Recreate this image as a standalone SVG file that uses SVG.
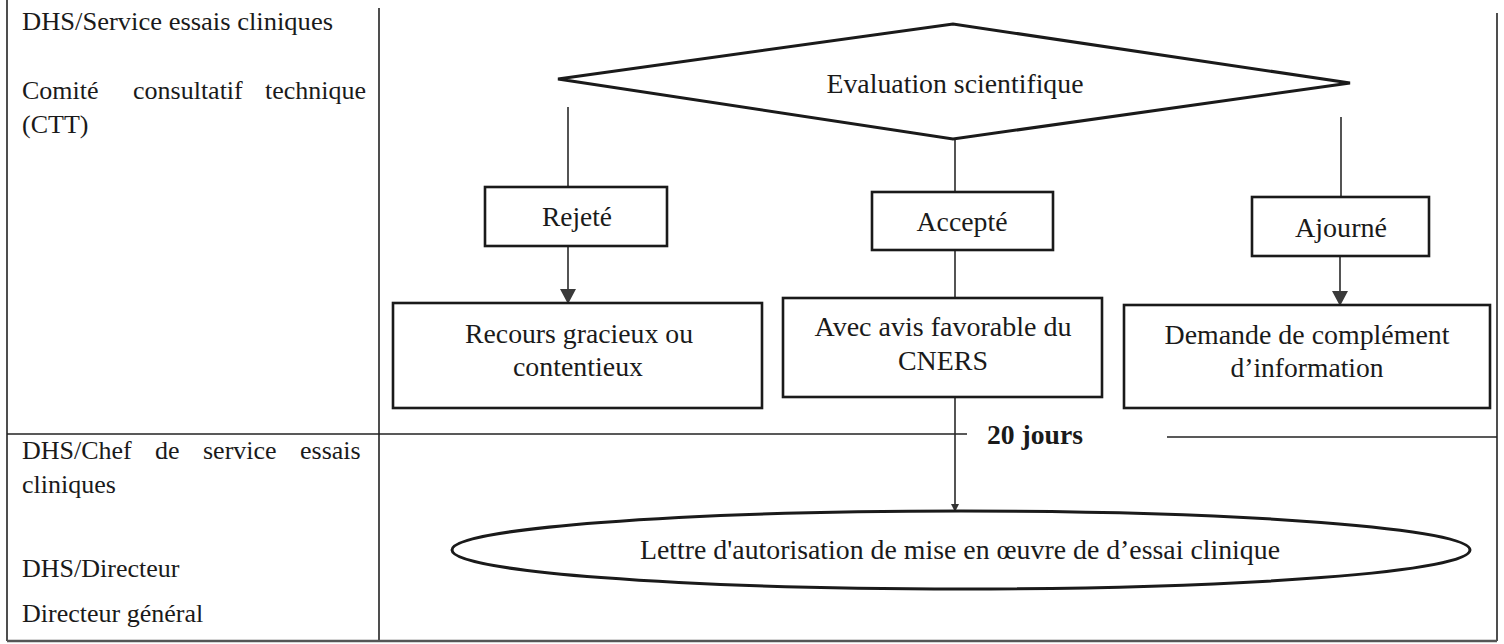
<svg xmlns="http://www.w3.org/2000/svg" width="1504" height="644" viewBox="0 0 1504 644">
<style>
text{font-family:"Liberation Serif","Times New Roman",serif;font-size:26px;fill:#1a1a1a}
.n{font-size:28px;text-anchor:middle}
.b{font-weight:bold;font-size:28px}
.tbl{stroke:#222;stroke-width:1.6;fill:none}
.box{fill:#fff;stroke:#1a1a1a;stroke-width:2.6}
.con{stroke:#2a2a2a;stroke-width:1.6;fill:none}
</style>
<defs>
<marker id="arr" markerWidth="15" markerHeight="16" refX="14" refY="8" orient="auto" markerUnits="userSpaceOnUse">
<path d="M0,0 L15,8 L0,16 Z" fill="#3a3a3a"/>
</marker>
<marker id="arrs" markerWidth="8" markerHeight="8" refX="7" refY="4" orient="auto" markerUnits="userSpaceOnUse">
<path d="M0,0 L8,4 L0,8 Z" fill="#333"/>
</marker>
</defs>
<rect width="1504" height="644" fill="#fff"/>
<g id="table">
<line class="tbl" x1="7" y1="0" x2="7" y2="641"/>
<line class="tbl" x1="379" y1="8" x2="379" y2="641"/>
<line class="tbl" x1="1497" y1="13" x2="1497" y2="641"/>
<line class="tbl" x1="7" y1="434" x2="967" y2="434"/>
<line class="tbl" x1="1167" y1="437" x2="1497" y2="437"/>
<line x1="7" y1="641" x2="1497" y2="641" stroke="#555" stroke-width="2.5"/>
</g>
<g id="lanes">
<text x="22" y="30" textLength="311" lengthAdjust="spacingAndGlyphs">DHS/Service essais cliniques</text>
<text x="22" y="99">Comité</text>
<text x="133" y="99">consultatif</text>
<text x="265" y="99">technique</text>
<text x="22" y="133">(CTT)</text>
<text x="22" y="459">DHS/Chef</text>
<text x="155" y="459">de</text>
<text x="203" y="459">service</text>
<text x="300" y="459">essais</text>
<text x="22" y="493">cliniques</text>
<text x="22" y="577">DHS/Directeur</text>
<text x="22" y="622">Directeur général</text>
</g>
<g id="connectors">
<line class="con" x1="568" y1="107" x2="568" y2="187"/>
<line class="con" x1="568" y1="246" x2="568" y2="303" marker-end="url(#arr)"/>
<line class="con" x1="955" y1="120" x2="955" y2="192"/>
<line class="con" x1="955" y1="250" x2="955" y2="298"/>
<line class="con" x1="955" y1="397" x2="955" y2="511" marker-end="url(#arrs)"/>
<line class="con" x1="1341" y1="117" x2="1341" y2="197"/>
<line class="con" x1="1340" y1="256" x2="1340" y2="305" marker-end="url(#arr)"/>
</g>
<g id="evaluation">
<polygon points="558,79 953,24 1350,83 953,139" fill="#fff" stroke="#1a1a1a" stroke-width="3"/>
<text class="n" x="955" y="93" textLength="257" lengthAdjust="spacingAndGlyphs">Evaluation scientifique</text>
</g>
<g id="rejete">
<rect class="box" x="485" y="187" width="182" height="59"/>
<text class="n" x="577" y="226" textLength="70" lengthAdjust="spacingAndGlyphs">Rejeté</text>
</g>
<g id="accepte">
<rect class="box" x="872" y="192" width="181" height="58"/>
<text class="n" x="962" y="231" textLength="91" lengthAdjust="spacingAndGlyphs">Accepté</text>
</g>
<g id="ajourne">
<rect class="box" x="1252" y="197" width="177" height="59"/>
<text class="n" x="1341" y="237" textLength="92" lengthAdjust="spacingAndGlyphs">Ajourné</text>
</g>
<g id="recours">
<rect class="box" x="393" y="303" width="369" height="105"/>
<text class="n" x="579" y="343" textLength="228" lengthAdjust="spacingAndGlyphs">Recours gracieux ou</text>
<text class="n" x="578" y="376" textLength="130" lengthAdjust="spacingAndGlyphs">contentieux</text>
</g>
<g id="avis">
<rect class="box" x="783" y="298" width="319" height="99"/>
<text class="n" x="943" y="336" textLength="257" lengthAdjust="spacingAndGlyphs">Avec avis favorable du</text>
<text class="n" x="943" y="370" textLength="90" lengthAdjust="spacingAndGlyphs">CNERS</text>
</g>
<g id="demande">
<rect class="box" x="1124" y="305" width="366" height="103"/>
<text class="n" x="1307" y="344" textLength="285" lengthAdjust="spacingAndGlyphs">Demande de complément</text>
<text class="n" x="1307" y="377" textLength="153" lengthAdjust="spacingAndGlyphs">d’information</text>
</g>
<g id="delai">
<text class="b" x="987" y="444" textLength="96" lengthAdjust="spacingAndGlyphs">20 jours</text>
</g>
<g id="lettre">
<ellipse cx="961" cy="550" rx="509" ry="39" fill="#fff" stroke="#1a1a1a" stroke-width="3"/>
<text class="n" x="960" y="559" font-size="27" textLength="640" lengthAdjust="spacingAndGlyphs">Lettre d'autorisation de mise en œuvre de d’essai clinique</text>
</g>
</svg>
